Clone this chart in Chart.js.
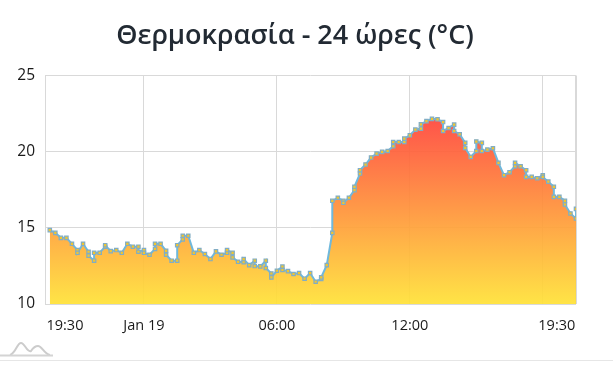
<!DOCTYPE html>
<html lang="el">
<head>
<meta charset="utf-8">
<title>Θερμοκρασία</title>
<script src="https://cdn.jsdelivr.net/npm/chart.js@4"></script>
<style>
    html, body { margin: 0; padding: 0; background: #fff; overflow: hidden; }
    #wrap { position: absolute; left: 0; top: 0; width: 590px; height: 340px; }
    #logo { position: absolute; left: 0; top: 338px; }
    #rule { position: absolute; left: 0; top: 360px; width: 613px; height: 1px; background: #e6e6e6; }
</style>
</head>
<body>
<div id="wrap"><canvas id="chart"></canvas></div>
<svg id="logo" width="54" height="20" viewBox="0 0 54 20">
    <path d="M10 17 C16 15 17 5 21 5 C25 5 27 15 31 13 C33 10 35 8 38 8 C42 8 44 16 50 17" fill="none" stroke="#cccccc" stroke-width="2"/>
    <path d="M0 17.5 H53" stroke="#d4d4d4" stroke-width="2"/>
</svg>
<div id="rule"></div>

<script>
const chartTitle = "Θερμοκρασία - 24 ώρες (°C)";

// minutes from midnight of Jan 19 (negative = evening before), some samples have two readings
const sampleMinutes = [
    -255, -240, -225, -210, -195, -180, -180, -165, -150, -150,
    -135, -135, -120, -105, -105, -90, -75, -60, -45, -30,
    -15, -15, 0, 0, 15, 30, 30, 45, 60, 60,
    75, 90, 90, 105, 105, 120, 135, 150, 165, 180,
    195, 210, 225, 225, 240, 240, 255, 270, 270, 285,
    300, 300, 315, 330, 330, 345, 345, 360, 375, 375,
    390, 405, 420, 435, 450, 465, 480, 480, 495, 510,
    510, 525, 540, 540, 555, 570, 570, 585, 585, 600,
    615, 630, 645, 660, 675, 675, 690, 705, 705, 720,
    735, 750, 750, 765, 780, 795, 810, 810, 825, 840,
    840, 855, 870, 870, 885, 900, 900, 915, 915, 930,
    945, 960, 975, 990, 1005, 1005, 1020, 1035, 1035, 1050,
    1065, 1080, 1080, 1095, 1110, 1110, 1125, 1140, 1140, 1155,
    1170, 1170
];

const temperatures = [
    14.85, 14.67, 14.34, 14.34, 13.95, 13.54, 13.36, 13.95, 13.43, 13.17,
    12.84, 13.36, 13.36, 13.76, 13.86, 13.47, 13.54, 13.36, 13.95, 13.76,
    13.76, 13.43, 13.54, 13.36, 13.23, 13.62, 13.95, 13.95, 13.49, 13.23,
    12.84, 12.84, 13.86, 14.24, 14.48, 14.48, 13.36, 13.54, 13.28, 12.95,
    13.45, 13.23, 13.36, 13.54, 13.36, 13.06, 12.77, 12.75, 12.95, 12.55,
    12.84, 12.49, 12.47, 12.84, 12.36, 12.0, 11.75, 12.18, 12.45, 12.23,
    12.16, 11.97, 12.03, 11.66, 12.03, 11.46, 11.64, 11.75, 12.55, 14.67,
    16.77, 16.97, 16.77, 16.64, 16.97, 17.47, 17.69, 18.56, 18.78, 19.15,
    19.61, 19.87, 19.98, 20.04, 20.35, 20.63, 20.63, 20.63, 20.85, 21.07,
    21.44, 21.51, 21.79, 22.0, 22.15, 22.12, 21.94, 21.35, 21.55, 21.77,
    21.35, 21.14, 20.57, 20.24, 19.65, 20.04, 20.66, 20.57, 20.04, 20.13,
    20.22, 19.26, 18.45, 18.65, 19.04, 19.26, 19.04, 18.78, 18.34, 18.34,
    18.25, 18.45, 18.34, 18.03, 17.69, 17.03, 17.03, 16.77, 16.53, 15.94,
    15.61, 16.24
];

const yTicks = [10, 15, 20, 25];
const xAxisMin = -268;
const xAxisMax = 1170;
const xTickValues = [-214, 0, 360, 720, 1080, 1118];
const xTickLabels = ["19:30", "Jan 19", "06:00", "12:00", "", "19:30"];
const xHiddenGrid = [-214, 1118];

const points = sampleMinutes.map((m, i) => ({ x: m, y: temperatures[i] }));

function fillGradient(context) {
    const chart = context.chart;
    if (!chart.chartArea) return "#ffb040";
    const y = chart.scales.y;
    const g = chart.ctx.createLinearGradient(0, y.getPixelForValue(22.2), 0, y.getPixelForValue(10));
    g.addColorStop(0, "rgba(255, 70, 60, 0.93)");
    g.addColorStop(1, "rgba(255, 226, 56, 0.93)");
    return g;
}

new Chart(document.getElementById("chart"), {
    type: "line",
    data: {
        datasets: [{
            data: points,
            borderColor: "#6fb8dc",
            borderWidth: 2,
            tension: 0,
            fill: "origin",
            backgroundColor: fillGradient,
            pointStyle: "rect",
            pointRadius: 2.4,
            pointBorderWidth: 1.2,
            pointBorderColor: "#82adc4",
            pointBackgroundColor: "#f2c62e"
        }]
    },
    options: {
        responsive: true,
        maintainAspectRatio: false,
        animation: false,
        layout: { padding: { left: 14, right: 14 } },
        plugins: {
            legend: { display: false },
            tooltip: { enabled: false },
            title: {
                display: true,
                text: chartTitle,
                color: "#222a33",
                font: { family: "'Open Sans'", size: 27, weight: "600" },
                padding: { top: 20, bottom: 23 }
            }
        },
        scales: {
            x: {
                type: "linear",
                min: xAxisMin,
                max: xAxisMax,
                afterBuildTicks: (axis) => {
                    axis.ticks = [xAxisMin].concat(xTickValues, [xAxisMax]).map((v) => ({ value: v }));
                },
                afterFit: (axis) => { axis.height = 36; },
                grid: {
                    drawTicks: false,
                    color: (c) => (xHiddenGrid.includes(c.tick && c.tick.value) ? "rgba(0,0,0,0)" : "#d9d9d9"),
                    lineWidth: (c) => (c.tick && c.tick.value === xAxisMax ? 2 : 1)
                },
                border: { display: false },
                ticks: {
                    autoSkip: false,
                    maxRotation: 0,
                    padding: 13,
                    color: "#1a1a1a",
                    font: { family: "'Open Sans'", size: 14.5 },
                    callback: (v) => {
                        const i = xTickValues.indexOf(v);
                        return i < 0 ? "" : xTickLabels[i];
                    }
                }
            },
            y: {
                min: 10,
                max: 25,
                afterBuildTicks: (axis) => { axis.ticks = yTicks.map((v) => ({ value: v })); },
                afterFit: (axis) => { axis.width = 31; },
                grid: { drawTicks: false, color: "#d9d9d9" },
                border: { display: false },
                ticks: {
                    padding: 10,
                    color: "#1a1a1a",
                    font: { family: "'Open Sans'", size: 15.5 }
                }
            }
        }
    }
});
</script>
</body>
</html>
